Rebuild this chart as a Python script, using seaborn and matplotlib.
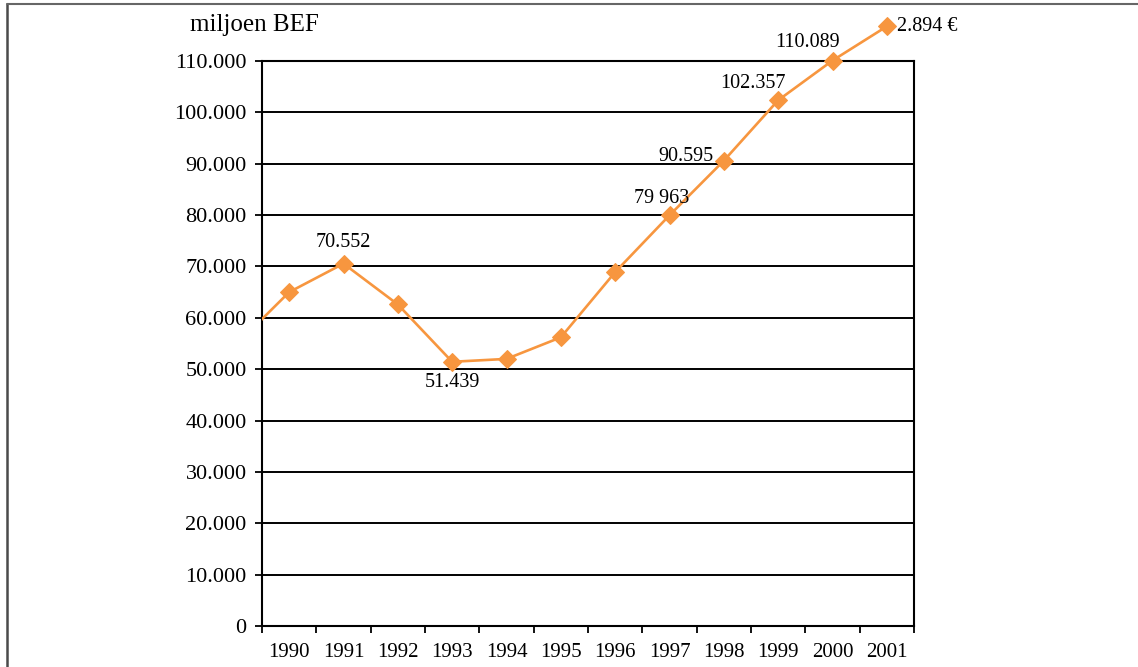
import matplotlib
matplotlib.use("Agg")
import matplotlib.pyplot as plt
import matplotlib.ticker as mticker
from matplotlib.patches import Rectangle
from matplotlib.lines import Line2D
import seaborn as sns
import pandas as pd

# ---- data ----
years = [1989, 1990, 1991, 1992, 1993, 1994, 1995, 1996, 1997, 1998, 1999, 2000, 2001]
values = [54500, 65000, 70552, 62600, 51439, 52000, 56200, 68900, 79963, 90595, 102357, 110089, 116744]
year_labels = ["1990", "1991", "1992", "1993", "1994", "1995", "1996", "1997",
               "1998", "1999", "2000", "2001"]
label_years = [1991, 1993, 1997, 1998, 1999, 2000, 2001]
label_texts = ["70.552", "51.439", "79 963", "90.595", "102.357", "110.089", "2.894 \u20ac"]
y_ticks = [0, 10000, 20000, 30000, 40000, 50000, 60000, 70000, 80000, 90000, 100000, 110000]
unit_label = "miljoen BEF"

# ---- style ----
sns.set_theme(style="white")
plt.rcParams['font.family'] = ['Liberation Serif', 'DejaVu Serif']

orange = "#F7963F"

fig = plt.figure(figsize=(11.38, 6.67), dpi=100)
ax = fig.add_axes([262/1138, 41/667, (914-262)/1138, (626-61)/667])

df = pd.DataFrame({"year": years, "value": values})
sns.lineplot(data=df, x="year", y="value", ax=ax, color=orange, linewidth=1.9,
             marker="D", markersize=9, markeredgecolor=orange, markerfacecolor=orange)

line = ax.lines[0]
clip = Rectangle((0, -0.2), 1.3, 1.5, transform=ax.transAxes, facecolor="none")
line.set_clip_path(clip)
line.set_zorder(5)

ax.set_xlim(1989.5, 2001.5)
ax.set_ylim(0, 110000)

# gridlines
ax.set_yticks(y_ticks)
ax.yaxis.grid(True, color="black", linewidth=1.4)
ax.xaxis.grid(False)
ax.yaxis.set_major_formatter(mticker.FuncFormatter(lambda v, p: f"{int(v):,}".replace(",", ".")))

# x ticks: boundaries as major ticks, year labels as minor
ax.set_xticks([y + 0.5 for y in range(1989, 2002)])
ax.set_xticklabels([])
ax.set_xticks(list(range(1990, 2002)), minor=True)
ax.set_xticklabels(year_labels, minor=True)
ax.tick_params(axis="x", which="major", direction="out", length=5, width=1.3, color="black", bottom=True)
ax.tick_params(axis="x", which="minor", length=0, pad=12, labelsize=15, labelcolor="black")
ax.tick_params(axis="y", direction="out", length=5, width=1.3, color="black", left=True,
               pad=6, labelsize=16, labelcolor="black")

for s in ["left", "bottom", "right", "top"]:
    ax.spines[s].set_visible(True)
    ax.spines[s].set_color("black")
    ax.spines[s].set_linewidth(1.5)

ax.set_xlabel("")
ax.set_ylabel("")

# data labels
offsets = {1991: (0, 21, "center"), 1993: (0, -21, "center"), 1997: (-8, 17, "center"),
           1998: (-38, 4, "center"), 1999: (-25, 17, "center"), 2000: (-25, 18, "center"),
           2001: (10, 0, "left")}
for yr, txt in zip(label_years, label_texts):
    v = values[years.index(yr)]
    dx, dy, ha = offsets[yr]
    ax.annotate(txt, xy=(yr, v), xytext=(dx, dy), textcoords="offset pixels",
                ha=ha, va="center", fontsize=14.5, color="black", annotation_clip=False, zorder=6)

fig.text(190/1138, 1 - 25/667, unit_label, ha="left", va="center", fontsize=18, color="black")

# figure border (left and top)
fig.add_artist(Line2D([7/1138, 7/1138], [0, 1 - 4/667], transform=fig.transFigure,
                      color="#4a4a4a", linewidth=1.8))
fig.add_artist(Line2D([7/1138, 1], [1 - 4/667, 1 - 4/667], transform=fig.transFigure,
                      color="#666666", linewidth=1.5))

fig.savefig("out.png", dpi=100)
